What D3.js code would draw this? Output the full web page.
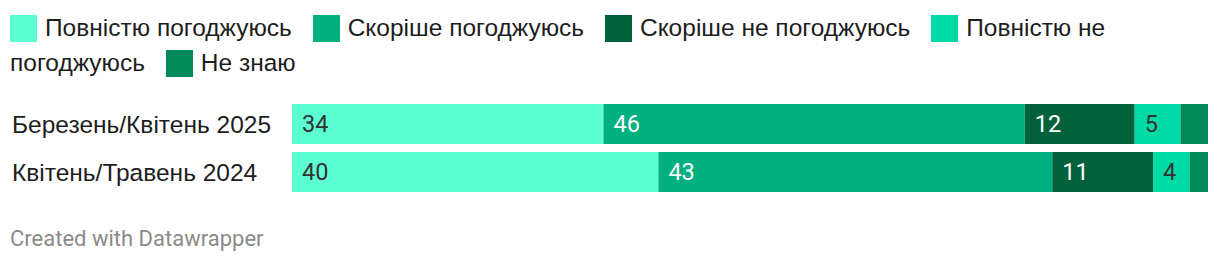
<!DOCTYPE html>
<html lang="uk">
<head>
<meta charset="UTF-8">
<title>Stacked bars</title>
<style>
  html, body { margin: 0; padding: 0; background: #fff; }
  body { width: 1220px; height: 270px; position: relative; overflow: hidden; }
  #legend {
    position: absolute; left: 10px; top: 10px; width: 1200px;
    font-family: 'Liberation Sans', Arial, sans-serif;
    font-size: 24.5px; line-height: 35px; color: #1d1d1d;
  }
  #legend .key { margin-right: 14px; }
  #legend .sw {
    display: inline-block; width: 27px; height: 27px;
    vertical-align: -6px; margin-right: 8px;
  }
  svg { position: absolute; left: 0; top: 0; }
</style>
</head>
<body>
<div id="legend"></div>
<svg id="chart" width="1220" height="270"></svg>

<script src="https://cdn.jsdelivr.net/npm/d3@7"></script>
<script>

// data
const categories = ["Березень/Квітень 2025", "Квітень/Травень 2024"];
const seriesNames = ["Повністю погоджуюсь", "Скоріше погоджуюсь", "Скоріше не погоджуюсь", "Повністю не погоджуюсь", "Не знаю"];
const fullyAgree = [34, 40];
const ratherAgree = [46, 43];
const ratherDisagree = [12, 11];
const fullyDisagree = [5, 4];
const dontKnow = [3, 2];

const colors = ["#5cffd1", "#00b07e", "#00613a", "#00dba6", "#008a5a"];
const labelColors = ["#333", "#fff", "#fff", "#333", "#fff"];

const rows = categories.map((c, i) => ({
  cat: c,
  vals: [fullyAgree[i], ratherAgree[i], ratherDisagree[i], fullyDisagree[i], dontKnow[i]]
}));

// legend (inline flow so long labels wrap like the original)
const legend = d3.select("#legend");
seriesNames.forEach((name, i) => {
  const k = legend.append("span").attr("class", "key");
  k.append("span").attr("class", "sw").style("background", colors[i]);
  k.append("span").text(name);
  legend.node().appendChild(document.createTextNode(" "));
});

const svg = d3.select("#chart");

const x = d3.scaleLinear().domain([0, 100]).range([292, 1208]);
const y = d3.scaleBand().domain(categories).range([104, 192]).paddingInner(8 / 48);

// category labels
svg.append("g").selectAll("text")
  .data(categories)
  .join("text")
    .attr("x", 12)
    .attr("y", d => y(d) + y.bandwidth() / 2)
    .attr("dy", "0.35em")
    .style("font-family", "'Liberation Sans', Arial, sans-serif")
    .style("font-size", "24.5px")
    .style("fill", "#1d1d1d")
    .text(d => d);

// stacked segments
const segs = [];
rows.forEach(r => {
  let acc = 0;
  r.vals.forEach((v, j) => {
    segs.push({cat: r.cat, j: j, v: v, x0: acc, x1: acc + v});
    acc += v;
  });
});

const bars = svg.append("g");
bars.selectAll("rect")
  .data(segs)
  .join("rect")
    .attr("x", d => x(d.x0))
    .attr("y", d => y(d.cat))
    .attr("width", d => x(d.x1) - x(d.x0))
    .attr("height", y.bandwidth())
    .attr("fill", d => colors[d.j]);

// value labels, last series too narrow to label
bars.selectAll("text")
  .data(segs.filter(d => d.j < 4))
  .join("text")
    .attr("x", d => x(d.x0) + 10)
    .attr("y", d => y(d.cat) + y.bandwidth() / 2)
    .attr("dy", "0.36em")
    .style("font-family", "Roboto, sans-serif")
    .style("font-size", "23.5px")
    .style("fill", d => labelColors[d.j])
    .text(d => d.v);

svg.append("text")
  .attr("x", 10)
  .attr("y", 246)
  .style("font-family", "Roboto, sans-serif")
  .style("font-size", "22px")
  .style("fill", "#8a8a8a")
  .text("Created with Datawrapper");

</script>
</body>
</html>
